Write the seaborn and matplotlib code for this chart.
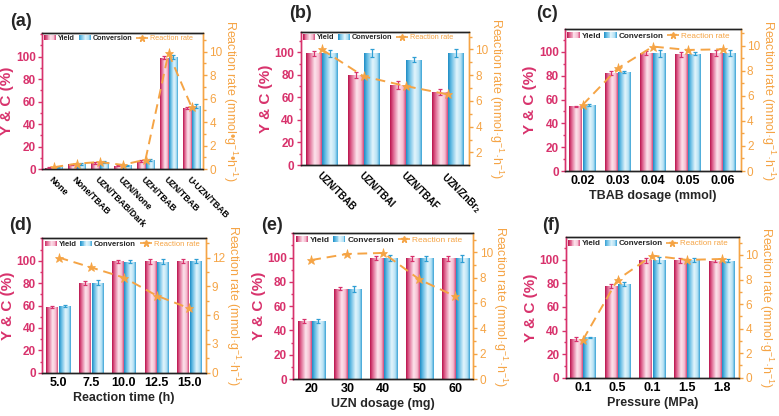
import numpy as np
import pandas as pd
import matplotlib
matplotlib.use("Agg")
import matplotlib.pyplot as plt
import seaborn as sns
from matplotlib.colors import LinearSegmentedColormap
from matplotlib.patches import Rectangle
from matplotlib.lines import Line2D
from matplotlib.legend_handler import HandlerBase
from matplotlib.ticker import MultipleLocator

# ---------------- data ----------------
a_cats = ["None", "None/TBAB", "UZN/TBAB/Dark", "UZN/None", "UZH/TBAB", "UZN/TBAB", "U-UZN/TBAB"]
a_yield = [1.2, 4.2, 5.6, 3.0, 7.2, 99.0, 54.0]
a_yield_err = [0.3, 0.5, 1.0, 0.5, 0.8, 1.5, 1.0]
a_conv = [1.5, 4.5, 6.0, 3.4, 8.0, 99.5, 56.0]
a_conv_err = [0.3, 0.5, 1.0, 0.5, 0.8, 1.5, 2.0]
a_rate = [0.15, 0.45, 0.6, 0.35, 0.8, 9.9, 5.3]

b_cats = ["UZN/TBAB", "UZN/TBAI", "UZN/TBAF", "UZN/ZnBr$_2$"]
b_yield = [99.0, 80.0, 71.0, 64.5]
b_yield_err = [2.0, 2.5, 3.5, 2.5]
b_conv = [99.0, 99.5, 93.5, 99.0]
b_conv_err = [3.0, 3.5, 2.0, 3.5]
b_rate = [10.0, 7.9, 7.15, 6.5]

c_cats = ["0.02", "0.03", "0.04", "0.05", "0.06"]
c_yield = [54.5, 82.5, 99.0, 98.0, 99.0]
c_yield_err = [0.5, 1.5, 2.0, 2.0, 2.5]
c_conv = [55.5, 83.0, 99.0, 98.5, 99.0]
c_conv_err = [0.8, 1.0, 3.0, 1.5, 2.5]
c_rate = [5.28, 8.2, 9.95, 9.68, 9.73]

d_cats = ["5.0", "7.5", "10.0", "12.5", "15.0"]
d_yield = [58.8, 80.0, 99.4, 99.4, 99.7]
d_yield_err = [0.8, 2.0, 1.5, 2.5, 2.0]
d_conv = [59.5, 80.5, 99.2, 99.2, 99.7]
d_conv_err = [0.8, 2.0, 1.5, 2.5, 2.0]
d_rate = [12.0, 10.96, 9.9, 8.03, 6.7]

e_cats = ["20", "30", "40", "50", "60"]
e_yield = [48.0, 74.5, 99.5, 99.5, 99.5]
e_yield_err = [1.5, 1.5, 1.5, 2.0, 2.0]
e_conv = [48.0, 74.5, 99.5, 99.5, 99.5]
e_conv_err = [1.5, 2.5, 2.5, 2.0, 3.0]
e_rate = [9.39, 9.87, 9.95, 7.86, 6.52]

f_cats = ["0.1", "0.5", "0.1", "1.5", "1.8"]
f_yield = [32.6, 77.9, 99.4, 99.4, 99.2]
f_yield_err = [1.5, 1.5, 2.0, 2.0, 1.5]
f_conv = [34.3, 79.6, 99.4, 99.6, 99.2]
f_conv_err = [0.5, 1.5, 2.5, 1.5, 1.5]
f_rate = [3.1, 8.0, 9.95, 9.6, 9.67]

# ---------------- style ----------------
sns.set_style("ticks")
plt.rcParams["font.family"] = ["Liberation Sans", "DejaVu Sans"]
plt.rcParams["font.weight"] = "bold"
plt.rcParams["mathtext.fontset"] = "custom"
plt.rcParams["mathtext.rm"] = "Liberation Sans"
plt.rcParams["mathtext.it"] = "Liberation Sans:italic"
plt.rcParams["mathtext.bf"] = "Liberation Sans:bold"
plt.rcParams["mathtext.default"] = "regular"

CRIMSON = "#D8326C"
ORANGE = "#F5A445"
BLUE = "#2E9ED3"

cmap_y = LinearSegmentedColormap.from_list(
    "y", [(0, "#B8134C"), (0.18, "#DC5A88"), (0.55, "#FCE4EC"), (0.82, "#F6BCD0"), (1, "#D2497A")])
cmap_c = LinearSegmentedColormap.from_list(
    "c", [(0, "#1E8CC4"), (0.18, "#5DB8E2"), (0.55, "#E3F5FC"), (0.82, "#B5E1F4"), (1, "#3AA3D6")])
GRAD = np.linspace(0, 1, 64)[np.newaxis, :]


class GradHandler(HandlerBase):
    def __init__(self, cmap):
        super().__init__()
        self.cmap = cmap

    def create_artists(self, legend, orig_handle, xdescent, ydescent, width, height, fontsize, trans):
        n = 14
        arts = []
        for i in range(n):
            arts.append(Rectangle((-xdescent + i * width / n, -ydescent), width / n + 0.05, height,
                                  facecolor=self.cmap((i + 0.5) / n), edgecolor="none", transform=trans))
        return arts


W, H = 779, 416
fig = plt.figure(figsize=(W / 100, H / 100), dpi=100)

RL_A = "Reaction rate (mmol•g$^{-1}$•h$^{-1}$)"
RL = "Reaction rate (mmol·g$^{-1}$·h$^{-1}$)"


def panel(rect, cats, yv, ye, cv, ce, rate, ylim_l, ylim_r, rticks, rminor,
          tag, tag_xy, legsize, xlabel=None, rot=None, rlabel=RL):
    l, t, r, b = rect
    ax = fig.add_axes([l / W, 1 - b / H, (r - l) / W, (b - t) / H])
    n = len(cats)
    df = pd.DataFrame({
        "pos": list(range(n)) * 2,
        "series": ["Yield"] * n + ["Conversion"] * n,
        "val": list(yv) + list(cv),
    })
    sns.barplot(data=df, x="pos", y="val", hue="series", hue_order=["Yield", "Conversion"],
                palette=[CRIMSON, BLUE], width=0.76, gap=0.04, ax=ax, legend=False,
                errorbar=None, saturation=1)
    for cont, err, col, cmap in zip(ax.containers, [ye, ce], [CRIMSON, BLUE], [cmap_y, cmap_c]):
        xs = [p.get_x() + p.get_width() / 2 for p in cont]
        hs = [p.get_height() for p in cont]
        for p in cont:
            x0, w, h = p.get_x(), p.get_width(), p.get_height()
            im = ax.imshow(GRAD, extent=(x0, x0 + w, 0, h), aspect="auto", cmap=cmap,
                           zorder=p.get_zorder(), interpolation="bilinear")
            im.set_clip_path(p)
        ax.errorbar(xs, hs, yerr=err, fmt="none", ecolor=col, elinewidth=0.9,
                    capsize=1.6, capthick=0.9, zorder=5)

    ax2 = ax.twinx()
    sns.lineplot(x=np.arange(n), y=rate, ax=ax2, color=ORANGE, lw=1.4, linestyle=(0, (5, 3)),
                 marker="*", markersize=6.5, markeredgecolor=ORANGE, markeredgewidth=0.5)

    ax.set_xlim(-0.5, n - 0.5)
    ax.set_ylim(0, ylim_l)
    ax2.set_ylim(*ylim_r)

    ax.set_xticks(range(n))
    if rot:
        ax.set_xticklabels(cats, rotation=-45, ha="left", rotation_mode="anchor", fontsize=rot)
        ax.tick_params(axis="x", length=0, pad=4, colors="black")
    else:
        ax.set_xticklabels(cats, fontsize=9)
        ax.tick_params(axis="x", length=0, pad=3, colors="black")

    ax.set_yticks(range(0, 101, 20))
    ax.yaxis.set_minor_locator(MultipleLocator(10))
    ax.tick_params(axis="y", which="both", colors=CRIMSON, direction="out", width=1, labelsize=8.5, pad=1.5)
    ax.tick_params(axis="y", which="major", length=3)
    ax.tick_params(axis="y", which="minor", length=1.8)

    ax2.set_yticks(rticks)
    ax2.yaxis.set_minor_locator(MultipleLocator(rminor))
    ax2.tick_params(axis="y", which="both", colors=ORANGE, direction="out", width=1, labelsize=8.5, pad=1.5)
    ax2.tick_params(axis="y", which="major", length=3)
    ax2.tick_params(axis="y", which="minor", length=1.8)
    for tl in ax2.get_yticklabels():
        tl.set_fontweight("normal")

    for a in (ax, ax2):
        for s in ("top", "bottom"):
            a.spines[s].set_color("#222222")
        a.spines["left"].set_color(CRIMSON)
        a.spines["right"].set_color(ORANGE)
        for s in a.spines.values():
            s.set_linewidth(1.0)

    ax.set_ylabel("Y & C (%)", color=CRIMSON, fontsize=11, fontweight="bold", labelpad=1)
    ax2.set_ylabel(rlabel, rotation=270, va="bottom", color=ORANGE, fontsize=9,
                   fontweight="normal", labelpad=-1)
    ax.set_xlabel(xlabel if xlabel else "", fontsize=9, fontweight="bold", labelpad=2)

    em = legsize * 100 / 72.0
    hy = Rectangle((0, 0), 1, 1)
    hc = Rectangle((0, 0), 1, 1)
    hr = Line2D([], [], color=ORANGE, lw=1.2, linestyle=(0, (3, 2)), marker="*", markersize=5)
    leg = ax2.legend([hy, hc, hr], ["Yield", "Conversion", "Reaction rate"],
                     handler_map={hy: GradHandler(cmap_y), hc: GradHandler(cmap_c)},
                     loc="upper left", bbox_to_anchor=(0, 1), ncol=3, frameon=False,
                     prop={"size": legsize, "weight": "bold"}, handlelength=12 / em,
                     handleheight=0.75, columnspacing=3.5 / em, handletextpad=2 / em,
                     borderaxespad=0.15, borderpad=0.15)
    leg.get_texts()[2].set_color(ORANGE)
    leg.get_texts()[2].set_fontweight("normal")

    fig.text(tag_xy[0] / W, 1 - tag_xy[1] / H, tag, ha="center", va="center",
             fontsize=13, fontweight="bold")
    return ax, ax2


panel((42, 33, 203, 169), a_cats, a_yield, a_yield_err, a_conv, a_conv_err, a_rate,
      121, (0, 11.6), [0, 2, 4, 6, 8, 10], 1, "(a)", (21, 21), 5.2, rot=6.4, rlabel=RL_A)
panel((300.7, 32, 469, 165), b_cats, b_yield, b_yield_err, b_conv, b_conv_err, b_rate,
      118, (1.02, 11.35), [2, 4, 6, 8, 10], 1, "(b)", (301, 13), 5.3, rot=7)
panel((565, 29.3, 740.7, 171), c_cats, c_yield, c_yield_err, c_conv, c_conv_err, c_rate,
      119, (0, 11.33), [0, 2, 4, 6, 8, 10], 1, "(c)", (547, 13), 5.9, xlabel="TBAB dosage (mmol)")
panel((42.3, 238.3, 205.7, 372.7), d_cats, d_yield, d_yield_err, d_conv, d_conv_err, d_rate,
      120, (0, 14.0), [0, 3, 6, 9, 12], 1.5, "(d)", (21, 225), 5.5, xlabel="Reaction time (h)")
panel((293.3, 233.3, 473.3, 379), e_cats, e_yield, e_yield_err, e_conv, e_conv_err, e_rate,
      120, (0, 11.5), [0, 2, 4, 6, 8, 10], 1, "(e)", (272, 225), 6.0, xlabel="UZN dosage (mg)")
panel((565.7, 237.3, 739, 377.7), f_cats, f_yield, f_yield_err, f_conv, f_conv_err, f_rate,
      119, (0, 11.44), [0, 2, 4, 6, 8, 10], 1, "(f)", (551, 225), 5.8, xlabel="Pressure (MPa)")

fig.savefig("out.png", dpi=100)
